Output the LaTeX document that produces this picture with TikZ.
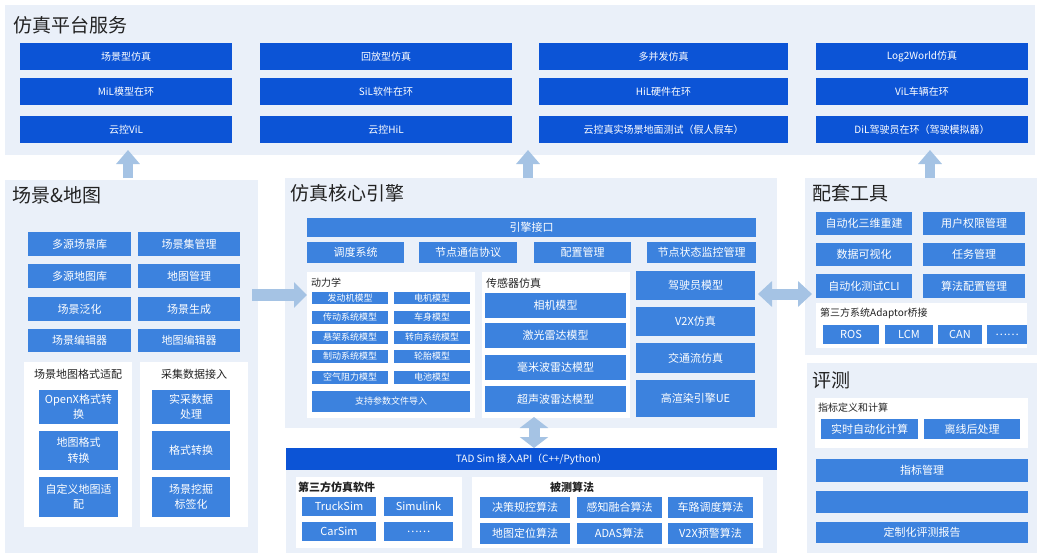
\documentclass[tikz,border=0pt]{standalone}
\usepackage{fontspec}
\setmainfont{Noto Sans CJK SC}
\usetikzlibrary{arrows.meta}
\definecolor{dblue}{RGB}{12,84,214}
\definecolor{mblue}{RGB}{60,130,222}
\definecolor{panelbg}{RGB}{234,240,249}
\definecolor{arrowc}{RGB}{165,195,228}
\definecolor{titlec}{RGB}{34,34,34}
\newcommand\fs[1]{\fontsize{#1}{\dimexpr #1pt*14/10\relax}\selectfont}
\newcommand\bx[7]{\node[#1,anchor=north west,minimum width={#5-#3},minimum height={#6-#4}] (#2) at (#3,#4) {#7};}
\tikzset{
  base/.style={rectangle,inner sep=0pt,outer sep=0pt,align=center},
  dbox/.style={base,fill=dblue,text=white,font=\fs{10}},
  mbox/.style={base,fill=mblue,text=white,font=\fs{11}},
  sbox/.style={base,fill=mblue,text=white,font=\fs{9}},
  panel/.style={base,fill=panelbg},
  wpanel/.style={base,fill=white},
  title/.style={anchor=west,inner sep=0pt,text=titlec,font=\fs{19}},
  sub/.style={inner sep=0pt,text=titlec,font=\fs{11}},
  bigarrow/.style={draw=arrowc,line width=10pt},
}
\begin{document}
\begin{tikzpicture}[x=1pt,y=-1pt]
\useasboundingbox[fill=white] (0,0) rectangle (1043,559);
% ---------- top panel ----------
\bx{panel}{top}{5}{5}{1035}{155}{}
\node[title] (ttop) at (13,25) {仿真平台服务};
\bx{dbox}{t11}{20}{43}{232}{70}{场景型仿真}
\bx{dbox}{t12}{20}{78}{232}{105}{MiL模型在环}
\bx{dbox}{t13}{20}{116}{232}{143}{云控ViL}
\bx{dbox}{t21}{260}{43}{512}{70}{回放型仿真}
\bx{dbox}{t22}{260}{78}{512}{105}{SiL软件在环}
\bx{dbox}{t23}{260}{116}{512}{143}{云控HiL}
\bx{dbox}{t31}{539}{43}{788}{70}{多并发仿真}
\bx{dbox}{t32}{539}{78}{788}{105}{HiL硬件在环}
\bx{dbox}{t33}{539}{116}{788}{143}{云控真实场景地面测试（假人假车）}
\bx{dbox}{t41}{816}{43}{1028}{70}{Log2World仿真}
\bx{dbox}{t42}{816}{78}{1028}{105}{ViL车辆在环}
\bx{dbox}{t43}{816}{116}{1028}{143}{DiL驾驶员在环（驾驶模拟器）}
% ---------- left panel ----------
\bx{panel}{left}{5}{180}{258}{553}{}
\node[title] (tleft) at (12,195) {场景\&地图};
\bx{mbox}{l11}{28}{232}{131}{256}{多源场景库}
\bx{mbox}{l12}{138}{232}{240}{256}{场景集管理}
\bx{mbox}{l21}{28}{264}{131}{288}{多源地图库}
\bx{mbox}{l22}{138}{264}{240}{288}{地图管理}
\bx{mbox}{l31}{28}{297}{131}{321}{场景泛化}
\bx{mbox}{l32}{138}{297}{240}{321}{场景生成}
\bx{mbox}{l41}{28}{329}{131}{352}{场景编辑器}
\bx{mbox}{l42}{138}{329}{240}{352}{地图编辑器}
\bx{wpanel}{lw1}{24}{362}{132}{527}{}
\bx{wpanel}{lw2}{140}{362}{248}{527}{}
\node[sub] (lw1t) at (78,374) {场景地图格式适配};
\node[sub] (lw2t) at (194,374) {采集数据接入};
\bx{mbox}{la1}{39}{390}{118}{424}{OpenX格式转\\换}
\bx{mbox}{la2}{39}{431}{118}{470}{地图格式\\转换}
\bx{mbox}{la3}{39}{477}{118}{517}{自定义地图适\\配}
\bx{mbox}{lb1}{152}{390}{230}{424}{实采数据\\处理}
\bx{mbox}{lb2}{152}{431}{230}{470}{格式转换}
\bx{mbox}{lb3}{152}{477}{230}{517}{场景挖掘\\标签化}
% ---------- middle panel ----------
\bx{panel}{mid}{285}{178}{777}{428}{}
\node[title] (tmid) at (290,193) {仿真核心引擎};
\bx{mbox}{eng}{307}{218}{756}{237}{引擎接口}
\bx{mbox}{m1}{307}{242}{404}{263}{调度系统}
\bx{mbox}{m2}{419}{242}{517}{263}{节点通信协议}
\bx{mbox}{m3}{534}{242}{631}{263}{配置管理}
\bx{mbox}{m4}{647}{242}{756}{263}{节点状态监控管理}
\bx{wpanel}{dyn}{307}{272}{475}{418}{}
\node[sub,anchor=west,font=\fs{10}] (dynt) at (311,283) {动力学};
\bx{sbox}{d11}{312}{292}{388}{304}{发动机模型}
\bx{sbox}{d12}{394}{292}{470}{304}{电机模型}
\bx{sbox}{d21}{312}{311}{388}{324}{传动系统模型}
\bx{sbox}{d22}{394}{311}{470}{324}{车身模型}
\bx{sbox}{d31}{312}{331}{388}{344}{悬架系统模型}
\bx{sbox}{d32}{394}{331}{470}{344}{转向系统模型}
\bx{sbox}{d41}{312}{350}{388}{363}{制动系统模型}
\bx{sbox}{d42}{394}{350}{470}{363}{轮胎模型}
\bx{sbox}{d51}{312}{371}{388}{384}{空气阻力模型}
\bx{sbox}{d52}{394}{371}{470}{384}{电池模型}
\bx{sbox}{d6}{312}{391}{470}{412}{支持参数文件导入}
\bx{wpanel}{sen}{482}{272}{630}{418}{}
\node[sub,anchor=west] (sent) at (486,283) {传感器仿真};
\bx{mbox}{s1}{485}{293}{626}{318}{相机模型}
\bx{mbox}{s2}{485}{323}{626}{348}{激光雷达模型}
\bx{mbox}{s3}{485}{355}{626}{380}{毫米波雷达模型}
\bx{mbox}{s4}{485}{386}{626}{412}{超声波雷达模型}
\bx{mbox}{r1}{636}{271}{755}{300}{驾驶员模型}
\bx{mbox}{r2}{636}{307}{755}{336}{V2X仿真}
\bx{mbox}{r3}{636}{343}{755}{373}{交通流仿真}
\bx{mbox}{r4}{636}{380}{755}{417}{高渲染引擎UE}
% ---------- API ----------
\bx{dbox}{api}{286}{448}{777}{470}{TAD Sim 接入API（C++/Python）}
\bx{panel}{low}{286}{470}{777}{553}{}
\bx{wpanel}{tp}{296}{477}{462}{548}{}
\node[sub,anchor=west,font=\bfseries\fs{11}] (tpt) at (298,487) {第三方仿真软件};
\bx{mbox}{tp1}{302}{497}{376}{516}{TruckSim}
\bx{mbox}{tp2}{384}{497}{453}{516}{Simulink}
\bx{mbox}{tp3}{302}{522}{376}{541}{CarSim}
\bx{mbox}{tp4}{384}{522}{453}{541}{……}
\bx{wpanel}{alg}{472}{477}{763}{548}{}
\node[sub,font=\bfseries\fs{11}] (algt) at (572,487) {被测算法};
\bx{mbox}{a11}{480}{497}{570}{518}{决策规控算法}
\bx{mbox}{a12}{577}{497}{662}{518}{感知融合算法}
\bx{mbox}{a13}{668}{497}{753}{518}{车路调度算法}
\bx{mbox}{a21}{480}{523}{570}{544}{地图定位算法}
\bx{mbox}{a22}{577}{523}{662}{544}{ADAS算法}
\bx{mbox}{a23}{668}{523}{753}{544}{V2X预警算法}
% ---------- right: tools ----------
\bx{panel}{tool}{805}{178}{1037}{355}{}
\node[title] (ttool) at (812,193) {配套工具};
\bx{mbox}{k11}{816}{212}{912}{235}{自动化三维重建}
\bx{mbox}{k12}{923}{212}{1025}{235}{用户权限管理}
\bx{mbox}{k21}{816}{243}{912}{266}{数据可视化}
\bx{mbox}{k22}{923}{243}{1025}{266}{任务管理}
\bx{mbox}{k31}{816}{274}{912}{298}{自动化测试CLI}
\bx{mbox}{k32}{923}{274}{1025}{298}{算法配置管理}
\bx{wpanel}{ad}{816}{303}{1027}{348}{}
\node[sub,anchor=west,font=\fs{10}] (adt) at (820,313) {第三方系统Adaptor桥接};
\bx{mbox}{ad1}{823}{325}{879}{344}{ROS}
\bx{mbox}{ad2}{885}{325}{933}{344}{LCM}
\bx{mbox}{ad3}{938}{325}{982}{344}{CAN}
\bx{mbox}{ad4}{987}{325}{1027}{344}{……}
% ---------- right: evaluation ----------
\bx{panel}{eval}{807}{363}{1037}{553}{}
\node[title] (teval) at (812,380) {评测};
\bx{wpanel}{ev}{815}{398}{1028}{448}{}
\node[sub,anchor=west,font=\fs{10}] (evt) at (818,408) {指标定义和计算};
\bx{mbox}{e1}{821}{419}{918}{439}{实时自动化计算}
\bx{mbox}{e2}{924}{419}{1020}{439}{离线后处理}
\bx{mbox}{e3}{816}{459}{1028}{482}{指标管理}
\bx{mbox}{e4}{816}{491}{1028}{513}{}
\bx{mbox}{e5}{816}{522}{1028}{543}{定制化评测报告}
% ---------- arrows ----------
\coordinate (u1) at (128,178);
\coordinate (u2) at (528,178);
\coordinate (u3) at (930,178);
\draw[bigarrow,-{Triangle[width=23pt,length=14pt]}] (u1) -- (u1 |- 0,150);
\draw[bigarrow,-{Triangle[width=23pt,length=14pt]}] (u2) -- (u2 |- 0,150);
\draw[bigarrow,-{Triangle[width=23pt,length=14pt]}] (u3) -- (u3 |- 0,150);
\coordinate (h1) at (252,295);
\draw[bigarrow,line width=12pt,-{Triangle[width=25pt,length=13pt]}] (h1) -- (h1 -| dyn.west);
\coordinate (h2) at (758,294);
\coordinate (h3) at (812,294);
\draw[bigarrow,line width=11pt,{Triangle[width=25pt,length=14pt]}-{Triangle[width=25pt,length=14pt]}] (h2) -- (h3);
\coordinate (v1) at (534,417);
\draw[bigarrow,line width=11pt,{Triangle[width=28pt,length=11pt]}-{Triangle[width=28pt,length=11pt]}] (v1) -- (v1 |- api.north);
\end{tikzpicture}
\end{document}
